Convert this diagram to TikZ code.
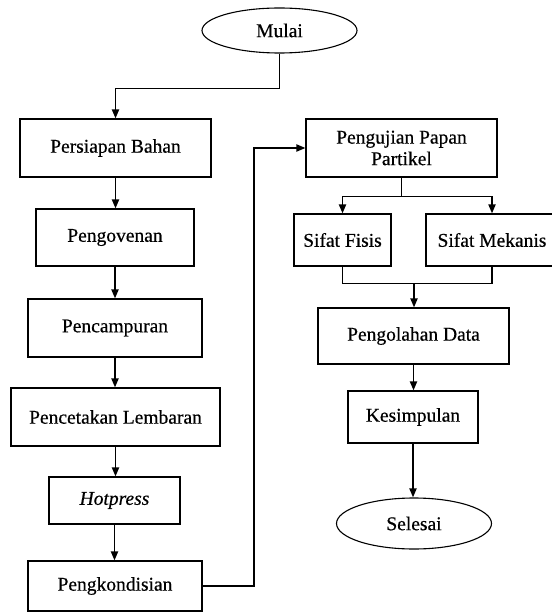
\documentclass[tikz,border=0pt]{standalone}
\usepackage{fontspec}
\setmainfont{Liberation Serif}[FakeBold=0.5]
\usetikzlibrary{arrows.meta,shapes.geometric}
\begin{document}
\begin{tikzpicture}[x=1pt,y=-1pt,
  box/.style={draw=black,line width=1.1pt,rectangle,inner sep=0pt,
    font=\fontsize{19.5}{21.5}\selectfont,align=center},
  oval/.style={draw=black,line width=1.1pt,ellipse,inner sep=0pt,
    font=\fontsize{19.5}{21.5}\selectfont},
  arr/.style={line width=1.8pt,-{Triangle[length=9pt,width=7pt]}},
  ln/.style={line width=1.8pt}]
\useasboundingbox (0,0) rectangle (551,612);
% left column
\node[oval,minimum width=155pt,minimum height=45pt] (mulai) at (279.5,30.5) {Mulai};
\node[box,minimum width=191pt,minimum height=58pt] (persiapan) at (115.5,148) {Persiapan Bahan};
\node[box,minimum width=158pt,minimum height=57pt] (pengovenan) at (115,237.5) {Pengovenan};
\node[box,minimum width=174pt,minimum height=58pt] (pencampuran) at (115,328) {Pencampuran};
\node[box,minimum width=209pt,minimum height=58pt] (pencetakan) at (115.5,417) {Pencetakan Lembaran};
\node[box,minimum width=131pt,minimum height=47pt] (hotpress) at (114.5,500.5) {\itshape Hotpress};
\node[box,minimum width=174pt,minimum height=50pt] (pengkondisian) at (115,586) {Pengkondisian};
% right column
\node[box,minimum width=191pt,minimum height=58pt] (pengujian) at (401.5,148) {Pengujian Papan\\Partikel};
\node[box,minimum width=97pt,minimum height=52pt] (fisis) at (342.5,240) {Sifat Fisis};
\node[box,minimum width=132pt,minimum height=52pt] (mekanis) at (492,240) {Sifat Mekanis};
\node[box,minimum width=191pt,minimum height=56pt] (pengolahan) at (413.5,336) {Pengolahan Data};
\node[box,minimum width=130pt,minimum height=52pt] (kesimpulan) at (413,417) {Kesimpulan};
\node[oval,minimum width=155pt,minimum height=51pt] (selesai) at (414,523.5) {Selesai};
% connectors
\draw[arr] (mulai.south) -- ++(0,35) -| (persiapan.north);
\draw[arr] (persiapan.south) -- (persiapan.south |- pengovenan.north);
\draw[arr] (pengovenan.south) -- (pengovenan.south |- pencampuran.north);
\draw[arr] (pencampuran.south) -- (pencampuran.south |- pencetakan.north);
\draw[arr] (pencetakan.south) -- (pencetakan.south |- hotpress.north);
\draw[arr] (hotpress.south) -- (hotpress.south |- pengkondisian.north);
\coordinate (up) at (254,586);
\draw[arr] (pengkondisian.east) -- (up) |- (pengujian.west);
\draw[arr] (pengujian.south) -- ++(0,19) -| (fisis.north);
\draw[arr] (pengujian.south) -- ++(0,19) -| (mekanis.north);
\draw[ln] (fisis.south) -- ++(0,17) -| (mekanis.south);
\coordinate (merge) at (414,283);
\draw[arr] (merge) -- (merge |- pengolahan.north);
\draw[arr] (pengolahan.south) -- (pengolahan.south |- kesimpulan.north);
\draw[arr] (kesimpulan.south) -- (kesimpulan.south |- selesai.north);
\end{tikzpicture}
\end{document}
